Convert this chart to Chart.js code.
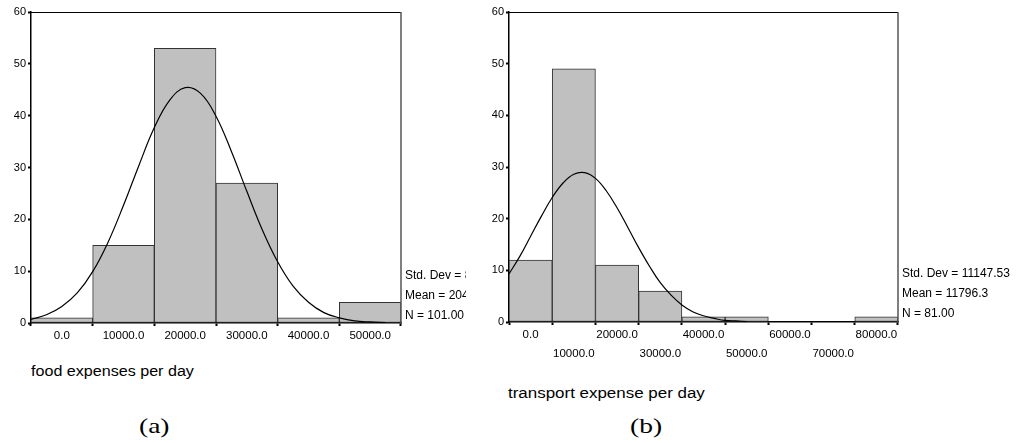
<!DOCTYPE html>
<html>
<head>
<meta charset="utf-8">
<script src="https://cdn.jsdelivr.net/npm/chart.js@4.4.1/dist/chart.umd.min.js"></script>
<style>
  html, body { margin: 0; padding: 0; background: #fff; width: 1025px; height: 443px; overflow: hidden; }
  .box { position: absolute; }
  .lbl { position: absolute; font-family: "Liberation Sans", Arial, sans-serif; font-size: 14px; color: #000; white-space: nowrap; line-height: 1; transform-origin: 0 0; }
  .cap { position: absolute; font-family: "Liberation Serif", "Times New Roman", serif; font-size: 22px; color: #000; white-space: nowrap; line-height: 1; transform-origin: 0 0; transform: scaleX(1.25); }
</style>
</head>
<body>
<div class="box" id="boxA" style="left:0;top:0;width:466px;height:345px;"><canvas id="chartA"></canvas></div>
<div class="box" id="boxB" style="left:480px;top:0;width:545px;height:370px;"><canvas id="chartB"></canvas></div>
<div class="lbl" style="left:31px;top:364px;transform:scaleX(1.15);">food expenses per day</div>
<div class="lbl" style="left:508px;top:386px;transform:scaleX(1.21);">transport expense per day</div>
<div class="cap" style="left:139px;top:415px;">(a)</div>
<div class="cap" style="left:630px;top:415px;">(b)</div>
<script>
// ---------- data: (a) food expenses per day ----------
const binsA = [0, 10000, 20000, 30000, 40000, 50000];
const countsA = [1, 15, 53, 27, 1, 4];
const curveAX = [-5000, -2500, 0, 2500, 5000, 7500, 10000, 12500, 15000, 17500, 20000, 22500, 25000, 27500, 30000, 32500, 35000, 37500, 40000, 42500, 45000, 47500, 50000, 52500];
const curveAY = [0.7, 1.6, 3.2, 5.8, 9.9, 15.6, 22.7, 30.4, 37.7, 43.0, 45.4, 44.3, 39.9, 33.1, 25.4, 18.0, 11.8, 7.1, 4.0, 2.0, 1.0, 0.4, 0.2, 0.1];
const ticksAX = [0, 10000, 20000, 30000, 40000, 50000];
const statsA = ["Std. Dev = 8856.32", "Mean = 20445.5", "N = 101.00"];

// ---------- data: (b) transport expense per day ----------
const binsB = [0, 10000, 20000, 30000, 40000, 50000, 60000, 70000, 80000];
const countsB = [12, 49, 11, 6, 1, 1, 0, 0, 1];
const curveBX = [-5000, -2500, 0, 2500, 5000, 7500, 10000, 12500, 15000, 17500, 20000, 22500, 25000, 27500, 30000, 32500, 35000, 37500, 40000, 42500, 45000, 47500, 50000];
const curveBY = [9.3, 12.7, 16.6, 20.5, 24.1, 26.9, 28.6, 28.9, 27.8, 25.4, 22.1, 18.3, 14.4, 10.8, 7.6, 5.2, 3.3, 2.0, 1.2, 0.7, 0.3, 0.2, 0.1];
const ticksBX = [0, 10000, 20000, 30000, 40000, 50000, 60000, 70000, 80000];
const statsB = ["Std. Dev = 11147.53", "Mean = 11796.3", "N = 81.00"];

const yTicks = [0, 10, 20, 30, 40, 50, 60];

const FONT = "'Liberation Sans', Arial, sans-serif";

const framePlugin = {
  id: 'frame',
  afterDraw(chart, args, opts) {
    const ctx = chart.ctx, a = chart.chartArea;
    ctx.save();
    ctx.strokeStyle = '#000';
    ctx.lineWidth = 1;
    ctx.beginPath();
    ctx.moveTo(a.left, a.top + 0.5);
    ctx.lineTo(a.right, a.top + 0.5);
    ctx.stroke();
    ctx.strokeStyle = '#555';
    ctx.lineWidth = 1.5;
    ctx.beginPath();
    ctx.moveTo(a.right, a.top);
    ctx.lineTo(a.right, a.bottom);
    ctx.stroke();
    ctx.fillStyle = '#000';
    ctx.font = '12px ' + FONT;
    ctx.textBaseline = 'middle';
    ctx.textAlign = 'left';
    opts.lines.forEach((t, i) => {
      ctx.fillText(t, a.right + opts.dx, opts.y0 + i * opts.dy);
    });
    ctx.restore();
  }
};

function makeChart(id, bins, counts, cx, cy, xTicks, xMin, xMax, padRight, yW, xH, stats, statY0, twoRows) {
  const barData = bins.map((b, i) => ({ x: b, y: counts[i] }));
  const lineData = cx.map((x, i) => ({ x: x, y: cy[i] }));
  return new Chart(document.getElementById(id), {
    type: 'bar',
    data: {
      datasets: [
        {
          type: 'line', data: lineData, borderColor: '#000', borderWidth: 1.2,
          pointRadius: 0, tension: 0.4, fill: false, order: 0
        },
        {
          type: 'bar', data: barData, backgroundColor: '#c0c0c0', borderColor: '#333',
          borderWidth: 1, borderSkipped: false, barPercentage: 1, categoryPercentage: 1, order: 1
        }
      ]
    },
    options: {
      responsive: true,
      maintainAspectRatio: false,
      animation: false,
      events: [],
      layout: { padding: { top: 12, right: padRight, left: 0, bottom: 0 } },
      plugins: {
        legend: { display: false },
        tooltip: { enabled: false },
        frame: { lines: stats, dx: 4, y0: statY0, dy: 20 }
      },
      scales: {
        x: {
          type: 'linear', min: xMin, max: xMax, offset: false,
          afterBuildTicks: s => { s.ticks = xTicks.map(v => ({ value: v })); },
          afterFit: s => { s.height = xH; },
          border: { display: true, color: '#000', width: 1.5 },
          grid: { drawOnChartArea: false, drawTicks: true, tickLength: 3, tickWidth: 2, tickColor: '#000' },
          ticks: {
            autoSkip: false, maxRotation: 0, padding: 0, color: '#000',
            font: { family: FONT, size: 11.5, lineHeight: '19px' },
            callback: (v, i) => {
              const s = Number(v).toFixed(1);
              return (twoRows && i % 2 === 1) ? ['', s] : s;
            }
          }
        },
        y: {
          min: 0, max: 60,
          afterBuildTicks: s => { s.ticks = yTicks.map(v => ({ value: v })); },
          afterFit: s => { s.width = yW; },
          border: { display: true, color: '#000', width: 1.5 },
          grid: { drawOnChartArea: false, drawTicks: true, tickLength: 3, tickWidth: 2, tickColor: '#000' },
          ticks: { padding: 2, color: '#000', font: { family: FONT, size: 11 } }
        }
      }
    },
    plugins: [framePlugin]
  });
}

makeChart('chartA', binsA, countsA, curveAX, curveAY, ticksAX, -5000, 55000, 65, 31, 22, statsA, 276, false);
makeChart('chartB', binsB, countsB, curveBX, curveBY, ticksBX, -5000, 85000, 127, 29, 48, statsB, 274, true);
</script>
</body>
</html>
